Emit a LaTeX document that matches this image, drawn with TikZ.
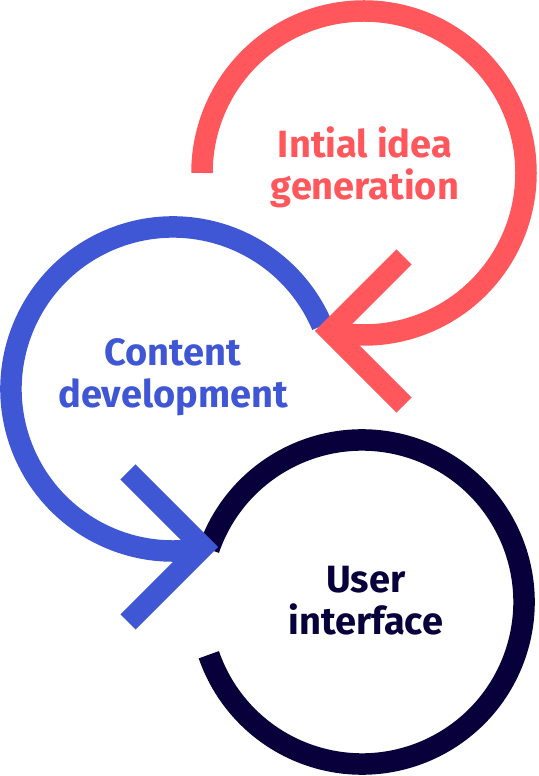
\documentclass[tikz,border=0pt]{standalone}
\usepackage{fontspec}
\setmainfont{Fira Sans}
\usepackage{tikz}
\usetikzlibrary{calc}
\definecolor{idea-red}{RGB}{255,87,92}
\definecolor{content-blue}{RGB}{64,87,213}
\definecolor{ui-navy}{RGB}{7,0,59}
\tikzstyle{loopline}=[line width=21.5pt, line join=miter, line cap=butt]
\tikzstyle{looptext}=[font=\fontsize{38}{42.5}\selectfont\bfseries, align=center, inner sep=0pt]

\begin{document}
\begin{tikzpicture}[x=1pt,y=1pt]
	\useasboundingbox (0,0) rectangle (538,776);
	\coordinate (ideac) at (364,603);
	\coordinate (contc) at (173,387);
	\coordinate (uic) at (362,174);
	\coordinate (ideatip) at (330,445);
	\coordinate (conttip) at (203,229);
	% user interface loop
	\draw[loopline,ui-navy] ($(uic)+(161:162)$) arc(161:-161:162);
	% content loop and arrow
	\draw[loopline,content-blue] ($(contc)+(23:162)$) arc(23:281:162);
	\draw[loopline,content-blue] ($(conttip)+(-75,75)$) -- (conttip) -- ($(conttip)+(-75,-75)$);
	% idea loop and arrow
	\draw[loopline,idea-red] ($(ideac)+(180:162)$) arc(180:-102:162);
	\draw[loopline,idea-red] ($(ideatip)+(74,74)$) -- (ideatip) -- ($(ideatip)+(74,-74)$);
	\node[looptext,idea-red,anchor=base] (idea) at (365,576) {Intial idea\\generation};
	\node[looptext,content-blue,anchor=base] (cont) at (173,368) {Content\\development};
	\node[looptext,ui-navy,anchor=base] (ui) at (366,141) {User\\interface};
\end{tikzpicture}
\end{document}
